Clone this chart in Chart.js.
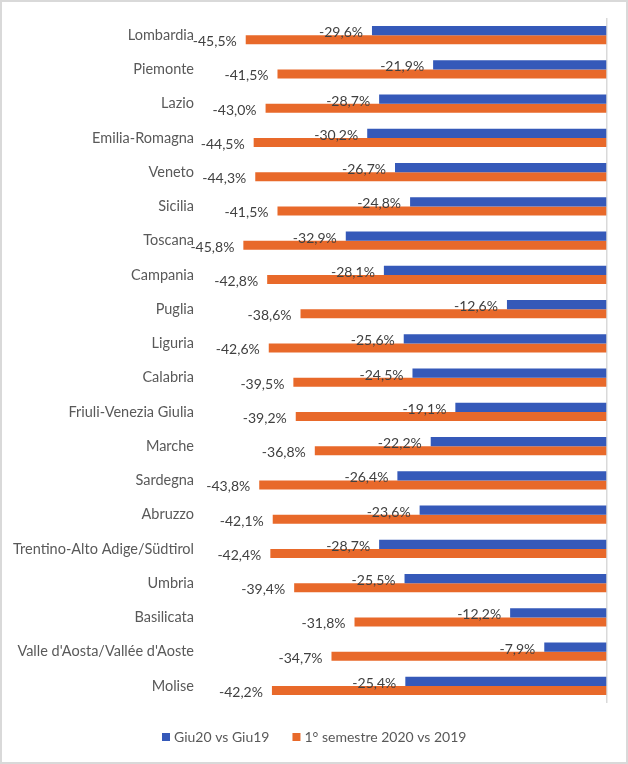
<!DOCTYPE html>
<html>
<head>
<meta charset="utf-8">
<script src="https://cdn.jsdelivr.net/npm/chart.js@4/dist/chart.umd.min.js"></script>
<style>
  body { margin: 0; background: #fff; }
  #wrap { position: relative; width: 628px; height: 764px; }
  #frame { position: absolute; left: 0; top: 0; width: 628px; height: 764px; box-sizing: border-box; border: 2px solid #d9d9d9; pointer-events: none; }
</style>
</head>
<body>
<div id="wrap">
  <canvas id="chart" width="628" height="764"></canvas>
  <div id="frame"></div>
</div>
<script>
// dati
const regioni = ["Lombardia", "Piemonte", "Lazio", "Emilia-Romagna", "Veneto", "Sicilia", "Toscana", "Campania", "Puglia", "Liguria",
  "Calabria", "Friuli-Venezia Giulia", "Marche", "Sardegna", "Abruzzo", "Trentino-Alto Adige/Südtirol", "Umbria", "Basilicata",
  "Valle d'Aosta/Vallée d'Aoste", "Molise"];
const giugno = [-29.6, -21.9, -28.7, -30.2, -26.7, -24.8, -32.9, -28.1, -12.6, -25.6,
  -24.5, -19.1, -22.2, -26.4, -23.6, -28.7, -25.5, -12.2, -7.9, -25.4];
const semestre = [-45.5, -41.5, -43.0, -44.5, -44.3, -41.5, -45.8, -42.8, -38.6, -42.6,
  -39.5, -39.2, -36.8, -43.8, -42.1, -42.4, -39.4, -31.8, -34.7, -42.2];
const serie = ["Giu20 vs Giu19", "1° semestre 2020 vs 2019"];

const FONT = "Lato, 'Open Sans', sans-serif";

// etichette dei valori a sinistra delle barre
const valueLabels = {
  id: "valueLabels",
  afterDatasetsDraw(chart) {
    const ctx = chart.ctx;
    ctx.save();
    ctx.font = "14px " + FONT;
    ctx.fillStyle = "#404040";
    ctx.textAlign = "right";
    ctx.textBaseline = "middle";
    chart.data.datasets.forEach((ds, i) => {
      chart.getDatasetMeta(i).data.forEach((bar, j) => {
        const txt = ds.data[j].toFixed(1).replace(".", ",") + "%";
        ctx.fillText(txt, bar.x - 9, bar.y + 2);
      });
    });
    ctx.restore();
  }
};

// legenda in basso
const bottomLegend = {
  id: "bottomLegend",
  afterDraw(chart) {
    const ctx = chart.ctx;
    ctx.save();
    ctx.font = "14px " + FONT;
    ctx.textBaseline = "middle";
    const y = 737;
    let x = 162;
    chart.data.datasets.forEach((ds) => {
      ctx.fillStyle = ds.backgroundColor;
      ctx.fillRect(x, y - 4, 8, 8);
      ctx.fillStyle = "#595959";
      ctx.textAlign = "left";
      ctx.fillText(ds.label, x + 12, y);
      x += 12 + ctx.measureText(ds.label).width + 23;
    });
    ctx.restore();
  }
};

new Chart(document.getElementById("chart"), {
  type: "bar",
  data: {
    labels: regioni,
    datasets: [
      { label: serie[0], data: giugno, backgroundColor: "#3559B9" },
      { label: serie[1], data: semestre, backgroundColor: "#E8692A" }
    ]
  },
  options: {
    indexAxis: "y",
    responsive: false,
    animation: false,
    layout: { padding: { top: 18, right: 21, bottom: 61, left: 0 } },
    datasets: { bar: { categoryPercentage: 0.53, barPercentage: 1.0 } },
    plugins: { legend: { display: false }, tooltip: { enabled: false } },
    scales: {
      x: {
        min: -50, max: 0,
        ticks: { display: false, stepSize: 10 },
        grid: { color: (c) => c.tick && c.tick.value === 0 ? "#d9d9d9" : "transparent", drawTicks: false, lineWidth: 1.5 },
        border: { display: false }
      },
      y: {
        afterFit(scale) { scale.width = 210; },
        grid: { display: false },
        border: { display: false },
        ticks: { color: "#595959", font: { family: FONT, size: 14.5 }, padding: 8, autoSkip: false }
      }
    }
  },
  plugins: [valueLabels, bottomLegend]
});
</script>
</body>
</html>
